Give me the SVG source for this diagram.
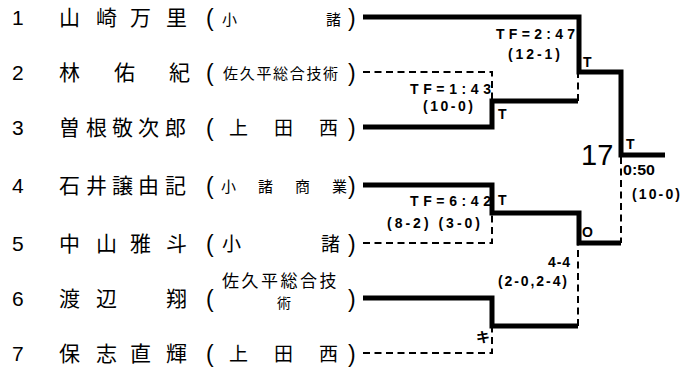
<svg xmlns="http://www.w3.org/2000/svg" width="681" height="367" viewBox="0 0 681 367">
<style>
.num{font-family:"Liberation Sans",Arial,sans-serif;font-size:21px;fill:#000}
.nm{font-family:"Noto Sans CJK JP","Noto Sans CJK SC",sans-serif;font-size:21px;fill:#000}
.par{font-family:"Liberation Sans",Arial,sans-serif;font-size:23px;fill:#000}
.sc{font-family:"Noto Sans CJK JP","Noto Sans CJK SC",sans-serif;font-size:15px;fill:#000}
.scl{font-family:"Noto Sans CJK JP","Noto Sans CJK SC",sans-serif;font-size:19px;fill:#000}
.lb{font-family:"Liberation Sans",Arial,sans-serif;font-size:14px;font-weight:bold;fill:#000}
.big{font-family:"Liberation Sans",Arial,sans-serif;font-size:29px;fill:#000}
.win{fill:none;stroke:#000;stroke-width:5;stroke-linejoin:miter;stroke-linecap:butt}
.los{fill:none;stroke:#000;stroke-width:2;stroke-dasharray:7 4.5}
</style>
<rect width="681" height="367" fill="#fff"/>

<g id="entry1">
<text class="num" x="12" y="25">1</text>
<text class="nm" x="59 96 130 166" y="25">山崎万里</text>
<text class="par" x="206" y="26">(</text>
<text class="sc" x="222 326" y="25">小諸</text>
<text class="par" x="348" y="26">)</text>
</g>
<g id="entry2">
<text class="num" x="12" y="80">2</text>
<text class="nm" x="59 114 169" y="80">林佑紀</text>
<text class="par" x="206" y="81">(</text>
<text class="sc" x="223 239.7 256.4 273 289.8 306.5 323" y="79">佐久平総合技術</text>
<text class="par" x="348" y="81">)</text>
</g>
<g id="entry3">
<text class="num" x="12" y="135">3</text>
<text class="nm" x="59 86 112 138 165" y="135">曽根敬次郎</text>
<text class="par" x="206" y="136">(</text>
<text class="scl" x="229 274 319" y="135">上田西</text>
<text class="par" x="348" y="136">)</text>
</g>
<g id="entry4">
<text class="num" x="12" y="193">4</text>
<text class="nm" x="59 86 112 138 165" y="193">石井譲由記</text>
<text class="par" x="206" y="194">(</text>
<text class="sc" x="221 258 295 332" y="192">小諸商業</text>
<text class="par" x="348" y="194">)</text>
</g>
<g id="entry5">
<text class="num" x="12" y="251">5</text>
<text class="nm" x="59 96 130 166" y="251">中山雅斗</text>
<text class="par" x="206" y="252">(</text>
<text class="scl" x="222 321" y="251">小諸</text>
<text class="par" x="348" y="252">)</text>
</g>
<g id="entry6">
<text class="num" x="12" y="306">6</text>
<text class="nm" x="59 96 166" y="306">渡辺翔</text>
<text class="par" x="206" y="307">(</text>
<text class="sc" style="font-size:17px" x="222 241.5 261 280.5 300 319.5" y="287">佐久平総合技</text>
<text class="sc" style="font-size:14px" x="277" y="308">術</text>
<text class="par" x="348" y="307">)</text>
</g>
<g id="entry7">
<text class="num" x="12" y="361">7</text>
<text class="nm" x="59 96 130 166" y="361">保志直輝</text>
<text class="par" x="206" y="362">(</text>
<text class="scl" x="229 274 319" y="361">上田西</text>
<text class="par" x="348" y="362">)</text>
</g>

<g id="connectors">
<path class="win" d="M363,17 H579 V72 H621 V155 H665"/>
<path class="los" d="M363,72 H492 V101"/>
<path class="win" d="M363,127 H492 V101 H578"/>
<path class="los" d="M578,101 V72"/>
<path class="win" d="M363,185 H492 V213 H579 V243 H621"/>
<path class="los" d="M363,243 H492 V213"/>
<path class="win" d="M363,298 H492 V326 H578"/>
<path class="los" d="M578,326 V243"/>
<path class="los" d="M363,353 H492 V326"/>
<path class="los" d="M621,157 V243"/>
</g>

<g id="labels">
<text class="lb" x="496" y="39" textLength="79" lengthAdjust="spacing">TF=2:47</text>
<text class="lb" x="508" y="59" textLength="52" lengthAdjust="spacing">(12-1)</text>
<text class="lb" x="583" y="67">T</text>
<text class="lb" x="410" y="94" textLength="81" lengthAdjust="spacing">TF=1:43</text>
<text class="lb" x="423" y="111" textLength="50" lengthAdjust="spacing">(10-0)</text>
<text class="lb" x="498" y="119">T</text>
<text class="big" x="581" y="165">17</text>
<text class="lb" x="626" y="149">T</text>
<text class="lb" x="623" y="175" textLength="32" lengthAdjust="spacingAndGlyphs">0:50</text>
<text class="lb" x="632" y="199" textLength="48" lengthAdjust="spacing">(10-0)</text>
<text class="lb" x="410" y="206" textLength="81" lengthAdjust="spacing">TF=6:42</text>
<text class="lb" x="498" y="205">T</text>
<text class="lb" x="387" y="228" textLength="93" lengthAdjust="spacing">(8-2) (3-0)</text>
<text class="lb" x="582" y="237">O</text>
<text class="lb" x="548" y="267" textLength="22" lengthAdjust="spacing">4-4</text>
<text class="lb" x="498" y="286" textLength="69" lengthAdjust="spacing">(2-0,2-4)</text>
<text class="lb" style="font-family:'Noto Sans CJK JP',sans-serif;font-size:14px" x="476" y="342">キ</text>
</g>
</svg>
